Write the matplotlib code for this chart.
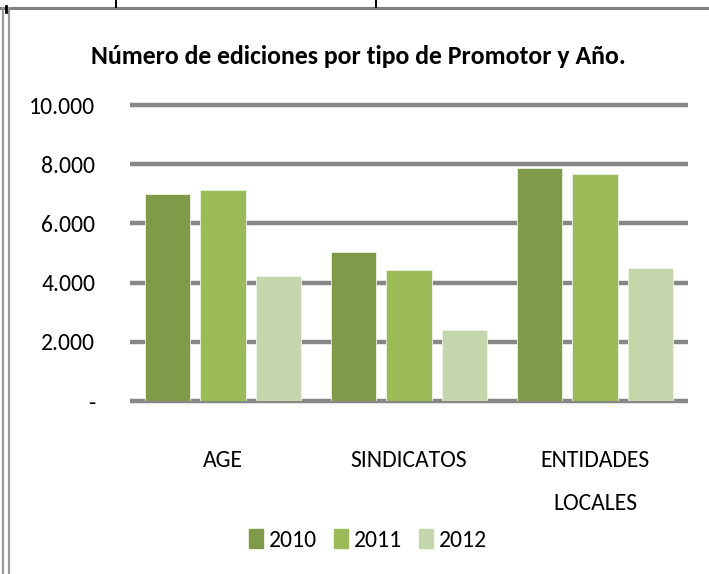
import numpy as np
import matplotlib.pyplot as plt
from matplotlib.lines import Line2D

# Data
categories = ["AGE", "SINDICATOS", "ENTIDADES\nLOCALES"]
years = ["2010", "2011", "2012"]
values_2010 = [7000, 5030, 7880]
values_2011 = [7140, 4430, 7660]
values_2012 = [4220, 2400, 4510]
yticks = [0, 2000, 4000, 6000, 8000, 10000]
ytick_labels = ["-", "2.000", "4.000", "6.000", "8.000", "10.000"]

colors = ["#7f9a48", "#9bbb59", "#c6d6ac"]
grid_col = "#878787"

plt.rcParams['font.family'] = ['Carlito', 'Liberation Sans Narrow', 'Liberation Sans', 'DejaVu Sans']

W, H = 709, 574
fig = plt.figure(figsize=(W / 100, H / 100), dpi=100)

# axes placed in pixel terms
left, right, top, bottom = 130, 688, 105, 401
ax = fig.add_axes([left / W, 1 - bottom / H, (right - left) / W, (bottom - top) / H])

x = np.arange(len(categories))
w = 0.242
off = 0.296
series = [values_2010, values_2011, values_2012]
for i, (vals, yr) in enumerate(zip(series, years)):
	ax.bar(x + (i - 1) * off, vals, width=w, color=colors[i], edgecolor="#eef3e4",
	       linewidth=0.6, label=yr, zorder=3)

for yv in yticks:
	ax.axhline(yv, color=grid_col, linewidth=3.2, zorder=1, clip_on=False, solid_capstyle="butt")

ax.set_xlim(-0.5, 2.5)
ax.set_ylim(0, 10000)
for s in ax.spines.values():
	s.set_visible(False)

ax.set_yticks(yticks)
ax.set_yticklabels(ytick_labels, fontsize=17)
ax.tick_params(axis="y", length=0, pad=25)
ax.set_xticks(x)
ax.set_xticklabels(categories, fontsize=17)
ax.tick_params(axis="x", length=0, pad=35)
for lbl in ax.get_xticklabels():
	lbl.set_linespacing(2.3)
	lbl.set_verticalalignment("top")

fig.text(358 / W, 1 - 57 / H, "Número de ediciones por tipo de Promotor y Año.",
         ha="center", va="center", fontsize=18.5, fontweight="bold")

handles = [plt.Rectangle((0, 0), 1, 1, color=c) for c in colors]
fig.legend(handles, years, loc="center", bbox_to_anchor=(368 / W, 1 - 540 / H), ncol=3,
           frameon=False, fontsize=17, handlelength=0.6, handleheight=0.85,
           handletextpad=0.25, columnspacing=0.7)

# sheet borders around the chart picture
def px_line(x0, y0, x1, y1, col, lw):
	fig.add_artist(Line2D([x0 / W, x1 / W], [1 - y0 / H, 1 - y1 / H], color=col,
	                      linewidth=lw, transform=fig.transFigure))

px_line(0, 8, W, 8, "#808080", 2.2)
px_line(3, 8, 3, H, "#999999", 1.6)
px_line(9, 8, 9, H, "#999999", 1.6)
px_line(6, 6, 6, 12, "black", 2.0)
px_line(116, 0, 116, 7, "black", 1.4)
px_line(376, 0, 376, 7, "black", 1.4)

fig.savefig("out.png", dpi=100)
